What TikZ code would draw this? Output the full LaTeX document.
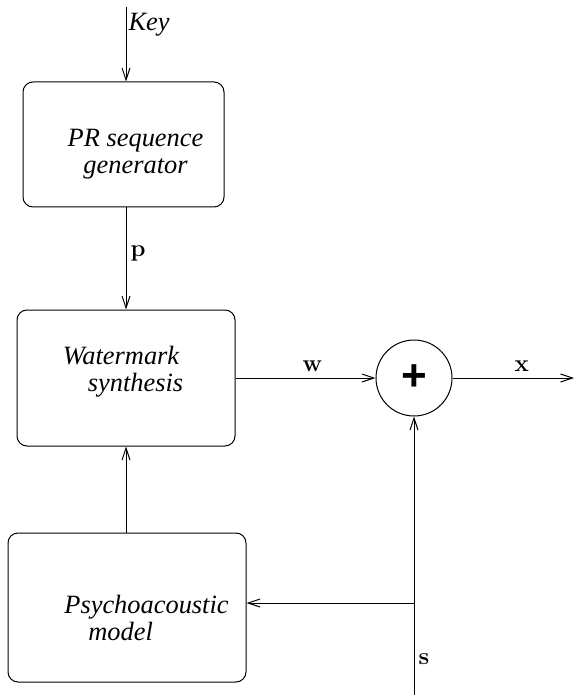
\documentclass[tikz,border=0pt]{standalone}
\usepackage[no-math]{fontspec}
\setmainfont{Liberation Serif}
\newfontfamily\arialfont{Liberation Sans}
\usetikzlibrary{arrows.meta,positioning}

\begin{document}
\begin{tikzpicture}[x=0.5pt,y=-0.5pt,line width=0.5pt,
    >={Straight Barb[length=6pt,width=4pt]},
    node distance=144pt,on grid,
    blk/.style={draw,rounded corners=5pt,inner sep=0pt},
    txt/.style={font=\rmfamily\itshape\fontsize{13.2}{13.5}\selectfont,align=left,inner sep=1pt},
    lbl/.style={font=\fontsize{11.5}{12}\selectfont,inner sep=2pt}]
  \useasboundingbox (0,0) rectangle (574,695);
  % blocks
  \node[blk,minimum width=100.5pt,minimum height=62.5pt] (prg) at (123.5,144.5) {};
  \node[txt,align=center] (prgtxt) at (135.5,154.5) {PR sequence\\generator};
  \node[blk,minimum width=109pt,minimum height=68pt] (wms) at (126,378) {};
  \node[txt] (wmstxt) at (123,372) {Watermark\\\hspace*{12.5pt}synthesis};
  \node[blk,minimum width=119pt,minimum height=74.5pt] (psy) at (127,607.5) {};
  \node[txt] (psytxt) at (146.5,618) {Psychoacoustic\\\hspace*{12pt}model};
  \node[draw,circle,minimum size=38pt,inner sep=0pt,
    font=\arialfont\bfseries\fontsize{22}{22}\selectfont] (sum) [right=of wms] {+};
  % free ends
  \coordinate (keyin) at (126,7);
  \coordinate (xout) at (574,378);
  \coordinate (sin) at (414,695);
  \coordinate (tap) at (414,603);
  % connectors
  \draw[->] (keyin) -- node[txt,right,pos=0.24] {Key} (keyin |- prg.north);
  \draw[->] (keyin |- prg.south) -- node[lbl,right,pos=0.45] {$\mathbf{p}$} (keyin |- wms.north);
  \draw[->] (keyin |- psy.north) -- (keyin |- wms.south);
  \draw[->] (wms.east) -- node[lbl,above=1pt,pos=0.55] {$\mathbf{w}$} (sum.west);
  \draw[->] (sum.east) -- node[lbl,above=1pt,pos=0.57] {$\mathbf{x}$} (xout);
  \draw[->] (sin) -- node[lbl,right,pos=0.13] {$\mathbf{s}$} (sum.south);
  \draw[->] (tap) -- (tap -| psy.east);
\end{tikzpicture}
\end{document}
